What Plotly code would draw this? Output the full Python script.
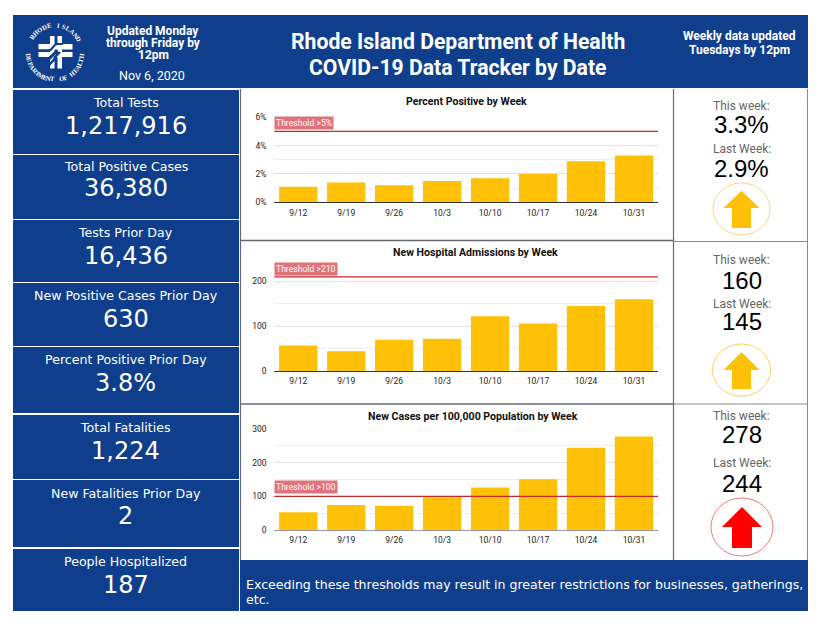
import math
import plotly.graph_objects as go

W, H = 823, 638
NAVY = "#0f3f8c"
AMBER = "#ffc107"

weeks = ["9/12", "9/19", "9/26", "10/3", "10/10", "10/17", "10/24", "10/31"]
percent_positive = [1.1, 1.4, 1.2, 1.5, 1.7, 2.0, 2.9, 3.3]
hospital_admissions = [57, 44, 70, 72, 122, 106, 145, 160]
cases_per_100k = [53, 74, 72, 97, 126, 151, 244, 278]

chart_titles = ["Percent Positive by Week", "New Hospital Admissions by Week",
                "New Cases per 100,000 Population by Week"]
thresholds = [5, 210, 100]
threshold_labels = ["Threshold >5%", "Threshold >210", "Threshold >100"]
y_ranges = [[0, 6], [0, 250], [0, 300]]
y_major = [2, 100, 100]
y_minor = [1, 50, 50]

stat_labels = ["Total Tests", "Total Positive Cases", "Tests Prior Day", "New Positive Cases Prior Day",
               "Percent Positive Prior Day", "Total Fatalities", "New Fatalities Prior Day", "People Hospitalized"]
stat_values = ["1,217,916", "36,380", "16,436", "630", "3.8%", "1,224", "2", "187"]
this_week = ["3.3%", "160", "278"]
last_week = ["2.9%", "145", "244"]


def px(x):
    return x / W


def py(y):
    return 1 - y / H


fig = go.Figure()
shapes = []
annots = []


def rect(x0, y0, x1, y1, fill, line=None, lw=0, layer="below"):
    shapes.append(dict(type="rect", xref="paper", yref="paper", x0=px(x0), x1=px(x1), y0=py(y0), y1=py(y1),
                       fillcolor=fill, line=dict(color=line or fill, width=lw), layer=layer))


def hline(x0, x1, y, color, w=1.5):
    shapes.append(dict(type="line", xref="paper", yref="paper", x0=px(x0), x1=px(x1), y0=py(y), y1=py(y),
                       line=dict(color=color, width=w), layer="below"))


def vline(x, y0, y1, color, w=1.5):
    shapes.append(dict(type="line", xref="paper", yref="paper", x0=px(x), x1=px(x), y0=py(y0), y1=py(y1),
                       line=dict(color=color, width=w), layer="below"))


def text(x, y, s, size, color="white", family="Roboto", anchor="center", angle=0):
    annots.append(dict(xref="paper", yref="paper", x=px(x), y=py(y), text=s, showarrow=False, xanchor=anchor,
                       yanchor="middle", textangle=angle, font=dict(size=size, color=color, family=family)))


# header and banners
rect(13, 15, 808, 88, NAVY)
rect(240, 560, 808, 611, NAVY)

# left stat cells
cell_edges = [(90, 154), (155, 219), (220, 282), (283, 346), (347, 413), (415, 479), (480, 547), (549, 611)]
label_ys = [102, 166, 232, 295, 360, 427, 493, 561]
value_ys = [125.5, 188.5, 255.5, 318.5, 382.5, 450.5, 515.5, 584.5]
for (a, b), lab, val, ly, vy in zip(cell_edges, stat_labels, stat_values, label_ys, value_ys):
    rect(13, a, 239, b, NAVY)
    text(125.5, ly, lab, 12.6, family="DejaVu Sans")
    text(125.5, vy, val, 24, family="DejaVu Sans")

# panel frames
GREY = "#666a70"
hline(240, 673, 240.5, GREY, 1.6)
hline(240, 673, 404, GREY, 1.6)
hline(673, 808, 241.5, "#8a8a8a", 1)
hline(673, 808, 404, "#8a8a8a", 1)
vline(240.5, 89, 560, GREY, 1.2)
vline(673.5, 89, 560, GREY, 1.2)
vline(807.5, 89, 560, "#8a8a8a", 1)

# header text
text(153, 31, "<b>Updated Monday</b>", 12)
text(153, 43, "<b>through Friday by</b>", 12)
text(153, 55, "<b>12pm</b>", 12)
text(152, 76, "Nov 6, 2020", 12.5)
text(458, 41, "<b>Rhode Island Department of Health</b>", 21.2)
text(458, 67, "<b>COVID-19 Data Tracker by Date</b>", 21.2)
text(739, 36, "<b>Weekly data updated</b>", 12)
text(739, 50, "<b>Tuesdays by 12pm</b>", 12)

# footer
text(244, 584, "Exceeding these thresholds may result in greater restrictions for businesses, gatherings,", 12.55,
     family="DejaVu Sans", anchor="left")
text(244, 599, "etc.", 12.55, family="DejaVu Sans", anchor="left")

# logo
LCX, LCY, LR = 55, 52, 27


def ring(s, start, end, bottom=False):
    n = len(s)
    for i, ch in enumerate(s):
        if ch == " ":
            continue
        t = start + (end - start) * i / (n - 1)
        r = math.radians(t)
        x = LCX + LR * math.sin(r)
        y = LCY - LR * math.cos(r)
        ang = (t + 180 if bottom else t) % 360
        if ang > 180:
            ang -= 360
        text(x, y, "<b>" + ch + "</b>", 6.5, family="Liberation Serif", angle=ang)


ring("RHODE ISLAND", -56, 62)
ring("DEPARTMENT OF HEALTH", 262, 98, bottom=True)
rect(50, 36, 54.5, 68.5, "white")
rect(57.5, 36, 62, 68.5, "white")
rect(38.5, 44, 72.5, 49.5, "white")
rect(38.5, 52, 72.5, 57, "white")
curves = [("M 38 50.7 L 48 50.7 C 53 50.7 53 44 57 44 L 63 44", 2.2),
          ("M 45 60 C 52 60 52 52 58 52", 3),
          ("M 48 69 C 48 62 55 62 55 57 L 60 52", 2.4)]
for d, w in curves:
    out = []
    isx = True
    for tk in d.split():
        if tk in "MCL":
            out.append(tk)
        else:
            v = float(tk)
            out.append(f"{px(v):.5f}" if isx else f"{py(v):.5f}")
            isx = not isx
    shapes.append(dict(type="path", xref="paper", yref="paper", path=" ".join(out),
                       line=dict(color=NAVY, width=w), layer="below"))

# charts
ZERO_Y = [202.3, 371, 530]
TOP_Y = [117.3, 259, 429]
L, R = 274.3, 658
series = [percent_positive, hospital_admissions, cases_per_100k]
title_ys = [101, 252, 416]
title_xs = [467, 475, 473]
axis_colors = ["#333333", "#333333", "#999999"]
label_shift = [1, 1, 2]
for i in range(3):
    sfx = "" if i == 0 else str(i + 1)
    fig.add_trace(go.Bar(x=weeks, y=series[i], marker=dict(color=AMBER, line=dict(width=0)),
                         xaxis="x" + sfx, yaxis="y" + sfx, showlegend=False, hoverinfo="skip"))
    xa = dict(domain=[px(L), px(R)], anchor="y" + sfx, type="category", showgrid=False, showline=True,
              linecolor=axis_colors[i], linewidth=1, ticks="outside", ticklen=2, tickcolor="rgba(0,0,0,0)",
              tickfont=dict(family="Roboto", size=8.5, color="#222222"), fixedrange=True, automargin=False)
    ya = dict(domain=[py(ZERO_Y[i]), py(TOP_Y[i])], anchor="x" + sfx, range=y_ranges[i], dtick=y_major[i],
              showgrid=True, gridcolor="#dfdfdf", gridwidth=1, zeroline=False, showline=False,
              ticks="outside", ticklen=5, tickcolor="rgba(0,0,0,0)",
              tickfont=dict(family="Roboto", size=8.5, color="#222222"), fixedrange=True, automargin=False,
              minor=dict(dtick=y_minor[i], showgrid=True, gridcolor="#eeeeee", gridwidth=1),
              ticksuffix="%" if i == 0 else "")
    fig.update_layout({"xaxis" + sfx: xa, "yaxis" + sfx: ya})
    ax = "x" + sfx
    ay = "y" + sfx
    shapes.append(dict(type="line", xref=ax + " domain", yref=ay, x0=0, x1=1, y0=thresholds[i], y1=thresholds[i],
                       line=dict(color="#c62828", width=1.3), layer="above"))
    annots.append(dict(xref=ax + " domain", yref=ay, x=0, y=thresholds[i], yshift=label_shift[i], xanchor="left",
                       yanchor="bottom", showarrow=False, text=threshold_labels[i], bgcolor="#e0727c",
                       borderpad=1, font=dict(family="Roboto", size=8.6, color="white")))
    text(title_xs[i], title_ys[i], "<b>" + chart_titles[i] + "</b>", 10.6, color="#111111")

# weekly comparison
right_ys = [(106, 125, 149, 168), (260, 280, 304, 321), (416, 434, 463, 483)]
circles = [(741.5, 209, 28.5, 26), (741.5, 370, 29, 26), (742, 527, 31, 29)]
circle_colors = ["#f8d77a", "#f8d060", "#ee7c80"]
arrow_colors = [AMBER, AMBER, "#ff0000"]
arrows = [(190.7, 208, 228, 18, 9.5), (352, 370, 389, 18, 9.5), (507, 527, 548, 20, 10)]
for i in range(3):
    a, b, c, d = right_ys[i]
    text(741.5, a, "This week:", 12, color="#666666")
    text(741.5, b, this_week[i], 24, color="#000000", family="Liberation Sans")
    text(741.5, c, "Last Week:", 12, color="#666666")
    text(741.5, d, last_week[i], 24, color="#000000", family="Liberation Sans")
    cx, cy, rx, ry = circles[i]
    shapes.append(dict(type="circle", xref="paper", yref="paper", x0=px(cx - rx), x1=px(cx + rx), y0=py(cy + ry),
                       y1=py(cy - ry), line=dict(color=circle_colors[i], width=1), layer="below"))
    tip, neck, base, hw, sw = arrows[i]
    pts = [(cx, tip), (cx + hw, neck), (cx + sw, neck), (cx + sw, base), (cx - sw, base), (cx - sw, neck),
           (cx - hw, neck)]
    path = "M " + " L ".join(f"{px(x):.5f} {py(y):.5f}" for x, y in pts) + " Z"
    shapes.append(dict(type="path", xref="paper", yref="paper", path=path, fillcolor=arrow_colors[i],
                       line=dict(width=0), layer="below"))

fig.update_layout(width=W, height=H, autosize=False, margin=dict(l=0, r=0, t=0, b=0, pad=0, autoexpand=False),
                  paper_bgcolor="white", plot_bgcolor="rgba(0,0,0,0)", bargap=0.2, shapes=shapes,
                  annotations=annots, showlegend=False)
fig.write_html("out.html", config={"displayModeBar": False},
               post_script="document.body.style.margin='0';document.body.style.overflow='hidden';")
